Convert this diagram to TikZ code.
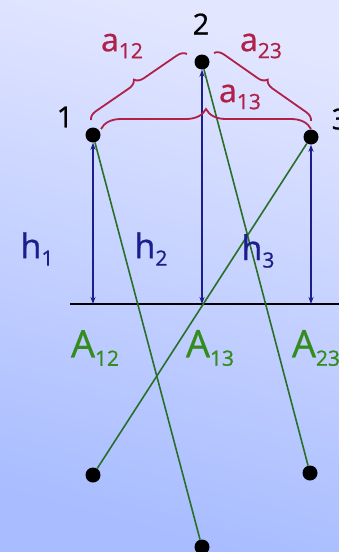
\documentclass[tikz,border=0pt]{standalone}
\usepackage{fontspec}
\setmainfont{Open Sans}[FakeBold=0.8]
\usetikzlibrary{arrows.meta,decorations.pathreplacing}
\definecolor{bgtop}{RGB}{226,230,255}
\definecolor{bgbot}{RGB}{168,188,255}
\definecolor{bracered}{RGB}{176,32,72}
\definecolor{hblue}{RGB}{28,30,140}
\definecolor{lgreen}{RGB}{40,112,40}
\definecolor{agreen}{RGB}{52,140,30}
\newcommand{\lowidx}[1]{\raisebox{-0.22em}{\fontsize{21}{21}\selectfont #1}}

\begin{document}
\begin{tikzpicture}[x=1pt,y=-1pt,>={Stealth[length=7pt,width=5pt]},
dot/.style={circle,fill=black,inner sep=0pt,minimum size=15pt},
numlab/.style={inner sep=0pt,font=\fontsize{29}{29}\selectfont},
alab/.style={inner sep=0pt,text=bracered,font=\fontsize{32}{32}\selectfont},
hlab/.style={inner sep=0pt,text=hblue,font=\fontsize{34}{34}\selectfont},
Alab/.style={inner sep=0pt,text=agreen,font=\fontsize{38}{38}\selectfont},
brace/.style={draw=bracered,line width=1.8pt,decorate,decoration={brace,amplitude=#1}},
harrow/.style={<->,hblue,line width=1.6pt},
proj/.style={lgreen,line width=1.6pt},
ground/.style={line width=2.6pt}]
\shade[top color=bgtop,bottom color=bgbot,shading angle=-15] (0,0) rectangle (339,552);
\useasboundingbox (0,0) rectangle (339,552);
% points and their shadows
\node[dot] (p1) at (93,135) {};
\node[dot] (p2) at (202,62) {};
\node[dot] (p3) at (311,137) {};
\node[dot] (s1) at (202,547) {};
\node[dot] (s2) at (310,473) {};
\node[dot] (s3) at (93,475) {};
\node[numlab] (n1) at (65,117) {1};
\node[numlab] (n2) at (201,24) {2};
\node[numlab] (n3) at (340,119) {3};
% ground line
\coordinate (gl) at (70,304);
\coordinate (gr) at (339,304);
\coordinate (g1) at (93,304);
\coordinate (g2) at (202,304);
\coordinate (g3) at (311,304);
\draw[ground] (gl) -- (gr);
\draw[harrow] (p1) -- (g1);
\draw[harrow] (p2) -- (g2);
\draw[harrow] (p3) -- (g3);
\draw[proj] (p1) -- (s1);
\draw[proj] (p2) -- (s2);
\draw[proj] (p3) -- (s3);
% distances
\draw[brace=9pt] (91,120) -- (187,54);
\draw[brace=9pt] (214,53) -- (311,121);
\draw[brace=20pt] (101,129) -- (311,129);
\node[alab] (a12) at (122,46) {a\lowidx{12}};
\node[alab] (a23) at (261,46) {a\lowidx{23}};
\node[alab] (a13) at (240,97) {a\lowidx{13}};
\node[hlab] (h1) at (37,249) {h\lowidx{1}};
\node[hlab] (h2) at (151,249) {h\lowidx{2}};
\node[hlab] (h3) at (258,251) {h\lowidx{3}};
\node[Alab] (A12) at (95,348) {A\lowidx{12}};
\node[Alab] (A13) at (210,348) {A\lowidx{13}};
\node[Alab] (A23) at (316,348) {A\lowidx{23}};
\end{tikzpicture}
\end{document}
